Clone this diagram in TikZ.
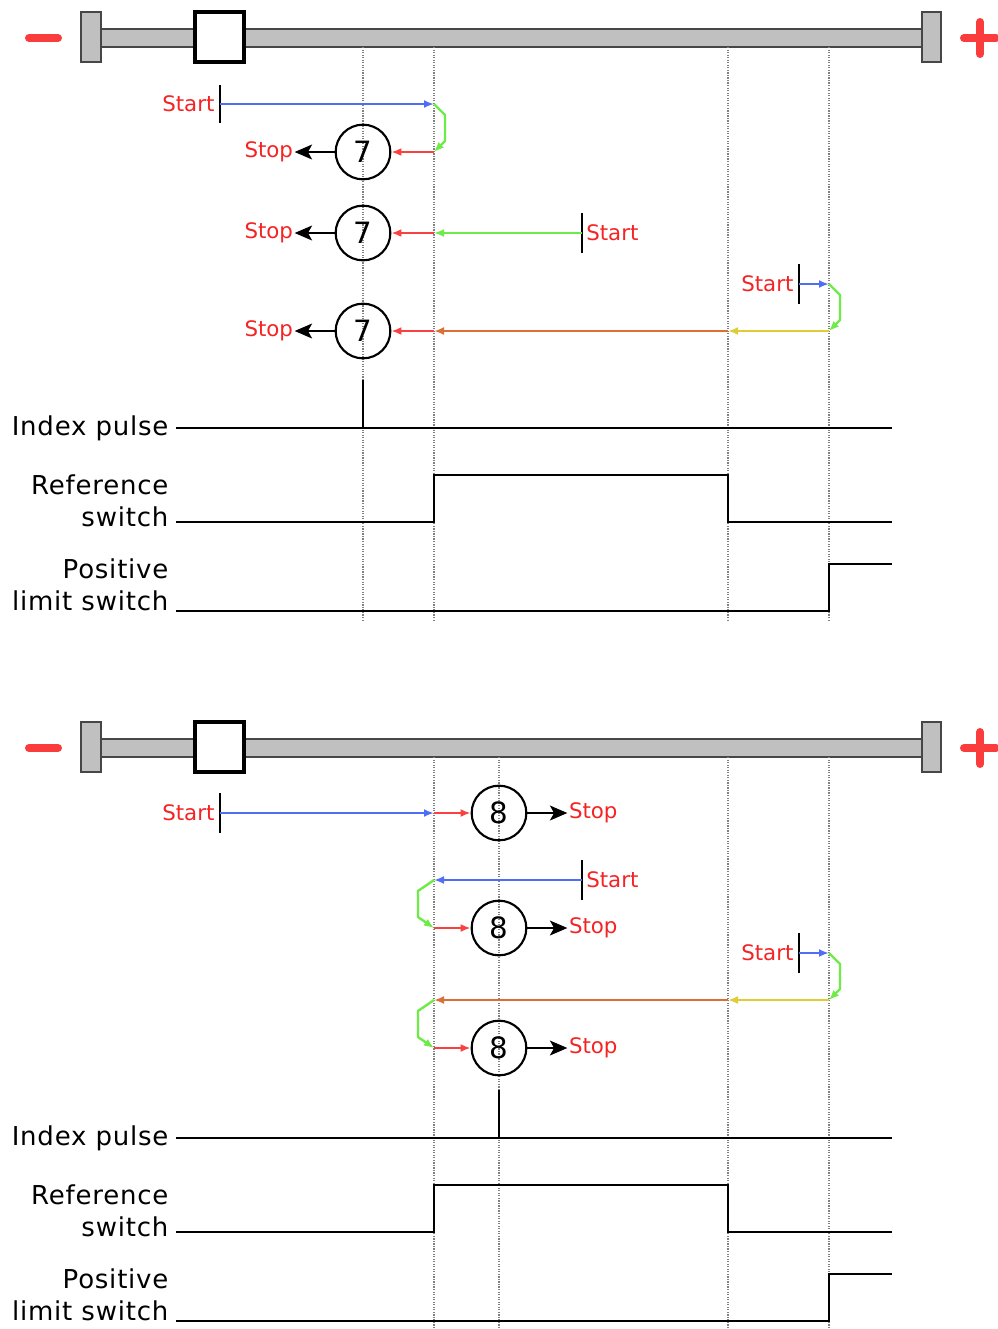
\documentclass[tikz,border=0pt]{standalone}
\usepackage{fontspec}
\setmainfont{DejaVu Sans}
\definecolor{moveblue}{RGB}{80,110,245}
\definecolor{movegreen}{RGB}{110,235,70}
\definecolor{movered}{RGB}{250,65,65}
\definecolor{moveorange}{RGB}{220,110,55}
\definecolor{moveyellow}{RGB}{222,205,55}
\definecolor{railgray}{RGB}{192,192,192}
\definecolor{railedge}{RGB}{70,70,70}
\definecolor{textred}{RGB}{245,35,35}
\definecolor{signred}{RGB}{250,60,60}
\usetikzlibrary{arrows.meta, positioning, calc}

\begin{document}
\begin{tikzpicture}[x=0.75pt, y=-0.75pt,
    mv/.style={line width=1.8pt, -{Latex[length=7.5pt,width=6pt]}},
    stoparrow/.style={line width=2.2pt, -{Stealth[length=13pt,width=11pt,inset=3pt]}},
    tickmark/.style={line width=2pt, black},
    stopcircle/.style={circle, draw, line width=1.6pt, minimum size=41pt, inner sep=0pt, font=\fontsize{22}{22}\selectfont},
    redlbl/.style={text=textred, inner sep=1pt, font=\fontsize{16}{16}\selectfont},
    siglbl/.style={anchor=east, align=right, inner sep=1pt, font=\fontsize{19.5}{24}\selectfont\addfontfeature{LetterSpace=3}},
    sig/.style={line width=2.2pt},
    guide/.style={gray, densely dotted, line width=0.9pt},
    endstop/.style={fill=railgray, draw=railedge, line width=1.3pt}]
  \useasboundingbox (0,0) rectangle (998,1329);

  % Rail, guides and signals (same in both panels)
  \foreach \p/\dy/\ix in {1/0/363, 2/710/499} {
    \begin{scope}[shift={(0,\dy)}]
      \draw[signred, line width=6pt, line cap=round] (29,38) -- (58,38);
      \draw[signred, line width=6pt, line cap=round] (964,38) -- (996,38) (980,22) -- (980,54);
      \draw[endstop] (101,29) rectangle (922,47);
      \draw[endstop] (81,12) rectangle (101,62);
      \draw[endstop] (922,12) rectangle (941,62);
      \draw[fill=white, line width=2.4pt] (195,12) rectangle (244,62);
      \foreach \gx in {\ix, 434, 728, 829}
        \draw[guide] (\gx,47) -- (\gx,620);
      % Signals
      \node[siglbl] (idx\p) at (170,428) {Index pulse};
      \draw[sig] ($(idx\p.east)+(6,0)$) -- (892,428) (\ix,428) -- (\ix,380);
      \node[siglbl] (ref\p) at (170,501) {Reference\\switch};
      \draw[sig] (176,522) -- (434,522) -- (434,475) -- (728,475) -- (728,522) -- (892,522);
      \node[siglbl] (lim\p) at (170,585) {Positive\\limit switch};
      \draw[sig] (176,611) -- (829,611) -- (829,564) -- (892,564);
    \end{scope}
  }

  % Panel 1, row 1
  \coordinate (t1a) at (220,104);
  \coordinate (t1b) at (434,104);
  \coordinate (t1c) at (434,152);
  \node[stopcircle] (c1) at (363,152) {7};
  \node[redlbl, left=30pt of c1] (stop1) {Stop};
  \draw[tickmark] ($(t1a)+(0,-19)$) -- ($(t1a)+(0,19)$);
  \node[redlbl, left=3pt] (start1) at (t1a) {Start};
  \draw[mv, movered] (t1c) -- (c1);
  \draw[mv, movegreen] (t1b) -- ++(11,11) -- ++(0,26) -- (t1c);
  \draw[mv, moveblue] (t1a) -- (t1b);
  \draw[stoparrow] (c1) -- (stop1);

  % Panel 1, row 2
  \coordinate (t2a) at (582,233);
  \coordinate (t2b) at (434,233);
  \node[stopcircle] (c2) at (363,233) {7};
  \node[redlbl, left=30pt of c2] (stop2) {Stop};
  \draw[tickmark] ($(t2a)+(0,-20)$) -- ($(t2a)+(0,20)$);
  \node[redlbl, right=2pt] (start2) at (t2a) {Start};
  \draw[mv, movered] (t2b) -- (c2);
  \draw[mv, movegreen] (t2a) -- (t2b);
  \draw[stoparrow] (c2) -- (stop2);

  % Panel 1, row 3
  \coordinate (t3a) at (799,284);
  \coordinate (t3b) at (829,284);
  \coordinate (t3c) at (829,331);
  \coordinate (t3d) at (728,331);
  \coordinate (t3e) at (434,331);
  \node[stopcircle] (c3) at (363,331) {7};
  \node[redlbl, left=30pt of c3] (stop3) {Stop};
  \draw[tickmark] ($(t3a)+(0,-20)$) -- ($(t3a)+(0,20)$);
  \node[redlbl, left=3pt] (start3) at (t3a) {Start};
  \draw[mv, movered] (t3e) -- (c3);
  \draw[mv, moveorange] (t3d) -- (t3e);
  \draw[mv, moveyellow] (t3c) -- (t3d);
  \draw[mv, movegreen] (t3b) -- ++(11,11) -- ++(0,25) -- (t3c);
  \draw[mv, moveblue] (t3a) -- (t3b);
  \draw[stoparrow] (c3) -- (stop3);

  % Panel 2, row 1
  \coordinate (b1a) at (220,813);
  \coordinate (b1b) at (434,813);
  \node[stopcircle] (c4) at (499,813) {8};
  \node[redlbl, right=30pt of c4] (stop4) {Stop};
  \draw[tickmark] ($(b1a)+(0,-20)$) -- ($(b1a)+(0,20)$);
  \node[redlbl, left=3pt] (start4) at (b1a) {Start};
  \draw[mv, movered] (b1b) -- (c4);
  \draw[mv, moveblue] (b1a) -- (b1b);
  \draw[stoparrow] (c4) -- (stop4);

  % Panel 2, row 2
  \coordinate (b2a) at (582,880);
  \coordinate (b2b) at (434,880);
  \coordinate (b2c) at (434,928);
  \node[stopcircle] (c5) at (499,928) {8};
  \node[redlbl, right=30pt of c5] (stop5) {Stop};
  \draw[tickmark] ($(b2a)+(0,-20)$) -- ($(b2a)+(0,20)$);
  \node[redlbl, right=2pt] (start5) at (b2a) {Start};
  \draw[mv, movered] (b2c) -- (c5);
  \draw[mv, movegreen] (b2b) -- ++(-16,11) -- ++(0,26) -- (b2c);
  \draw[mv, moveblue] (b2a) -- (b2b);
  \draw[stoparrow] (c5) -- (stop5);

  % Panel 2, row 3
  \coordinate (b3a) at (799,953);
  \coordinate (b3b) at (829,953);
  \coordinate (b3c) at (829,1000);
  \coordinate (b3d) at (728,1000);
  \coordinate (b3e) at (434,1000);
  \coordinate (b3f) at (434,1048);
  \node[stopcircle] (c6) at (499,1048) {8};
  \node[redlbl, right=30pt of c6] (stop6) {Stop};
  \draw[tickmark] ($(b3a)+(0,-20)$) -- ($(b3a)+(0,20)$);
  \node[redlbl, left=3pt] (start6) at (b3a) {Start};
  \draw[mv, movered] (b3f) -- (c6);
  \draw[mv, movegreen] (b3e) -- ++(-16,11) -- ++(0,26) -- (b3f);
  \draw[mv, moveorange] (b3d) -- (b3e);
  \draw[mv, moveyellow] (b3c) -- (b3d);
  \draw[mv, movegreen] (b3b) -- ++(11,11) -- ++(0,25) -- (b3c);
  \draw[mv, moveblue] (b3a) -- (b3b);
  \draw[stoparrow] (c6) -- (stop6);
\end{tikzpicture}
\end{document}
